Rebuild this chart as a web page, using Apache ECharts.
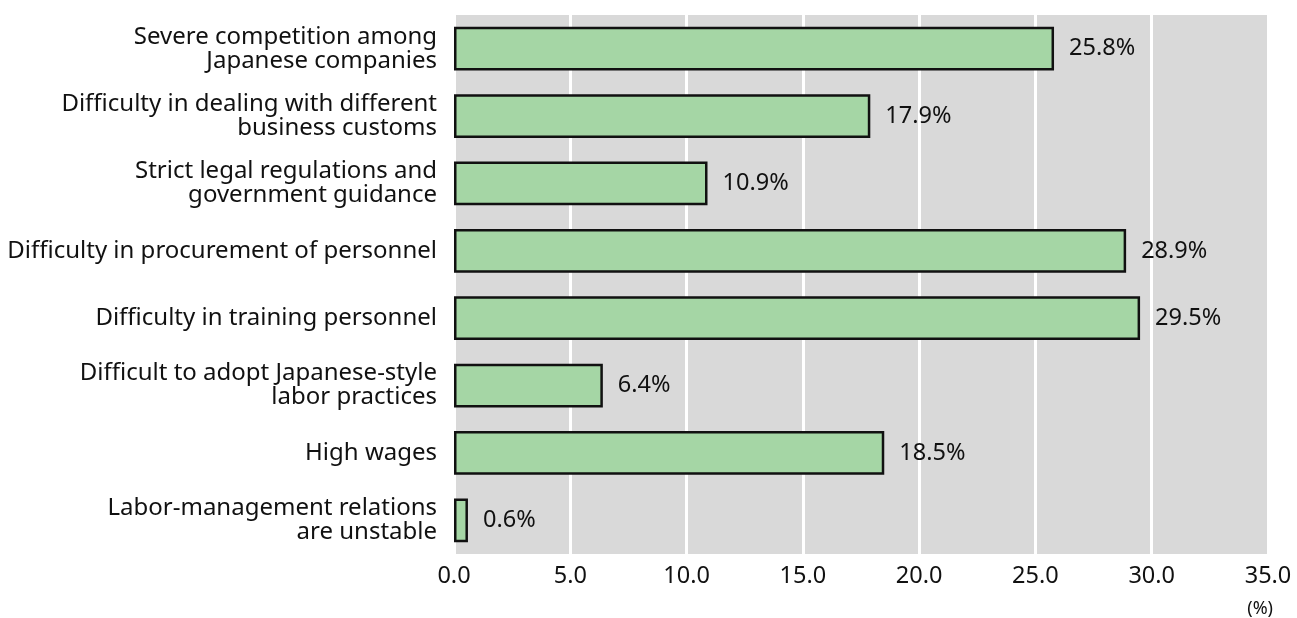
<!DOCTYPE html>
<html>
<head>
<meta charset="utf-8">
<script src="https://cdn.jsdelivr.net/npm/echarts@6/dist/echarts.min.js"></script>
<style>html,body{margin:0;padding:0;background:#fff}#c{width:1297px;height:618px}</style>
</head>
<body>
<div id="c"></div>
<script>
const categories = [
  "Severe competition among\nJapanese companies",
  "Difficulty in dealing with different\nbusiness customs",
  "Strict legal regulations and\ngovernment guidance",
  "Difficulty in procurement of personnel",
  "Difficulty in training personnel",
  "Difficult to adopt Japanese-style\nlabor practices",
  "High wages",
  "Labor-management relations\nare unstable"
];
const values = [25.8, 17.9, 10.9, 28.9, 29.5, 6.4, 18.5, 0.6];
const xTicks = [0, 5, 10, 15, 20, 25, 30, 35];
const unitLabel = "(%)";

const chart = echarts.init(document.getElementById('c'), null, {renderer: 'canvas'});
const FONT = '"Noto Sans", "Open Sans", sans-serif';
chart.setOption({
  animation: false,
  backgroundColor: '#ffffff',
  title: {
    text: unitLabel, right: 24, bottom: 0, padding: 0,
    textStyle: {color: '#111', fontSize: 18, fontWeight: 'normal', fontFamily: FONT}
  },
  grid: {left: 454, right: 29, top: 15, bottom: 64, show: true, backgroundColor: '#d9d9d9', borderWidth: 0},
  xAxis: {
    type: 'value', min: xTicks[0], max: xTicks[xTicks.length - 1], interval: 5,
    axisLine: {show: false}, axisTick: {show: false},
    splitLine: {show: true, lineStyle: {color: '#ffffff', width: 3}},
    axisLabel: {color: '#111', fontFamily: FONT, fontSize: 23.5, margin: 10,
      formatter: v => v.toFixed(1)}
  },
  yAxis: {
    type: 'category', data: categories, inverse: true,
    axisLine: {show: false}, axisTick: {show: false}, splitLine: {show: false},
    axisLabel: {color: '#111', fontFamily: FONT, fontSize: 24, lineHeight: 24, margin: 17, align: 'right'}
  },
  series: [{
    type: 'bar', data: values, barWidth: '65%',
    itemStyle: {color: '#a5d6a5', borderColor: '#111', borderWidth: 2.5},
    label: {show: true, position: 'right', distance: 15, color: '#111', fontFamily: FONT, fontSize: 23.5,
      formatter: p => p.value.toFixed(1) + '%'}
  }]
});
</script>
</body>
</html>
